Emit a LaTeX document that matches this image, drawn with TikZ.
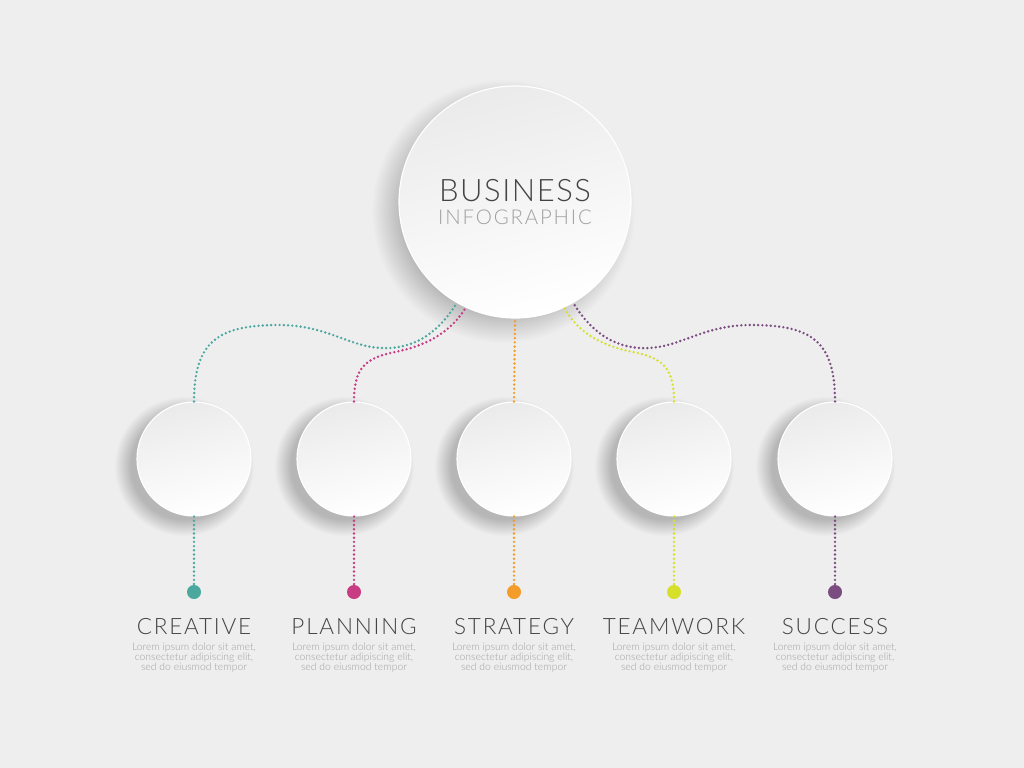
\documentclass[tikz,border=0pt]{standalone}
\usepackage{fontspec}
\setmainfont{Open Sans}
\newfontfamily\thinfont{Lato Light}

\definecolor{bg}{HTML}{EEEEEE}
\definecolor{cteal}{HTML}{4BA89E}
\definecolor{cmag}{HTML}{C83C84}
\definecolor{corange}{HTML}{F39C2A}
\definecolor{cyellow}{HTML}{D6DF2A}
\definecolor{cpurple}{HTML}{7B4C80}
\definecolor{darktext}{HTML}{444444}
\definecolor{lighttext}{HTML}{A0A0A0}
\definecolor{shadowgray}{HTML}{B6B6B6}

\pgfdeclareradialshading{discshadow}{\pgfpoint{0bp}{0bp}}{color(0bp)=(shadowgray); color(19bp)=(shadowgray); color(25bp)=(bg); color(50bp)=(bg)}

\tikzset{
  disc/.style={circle,draw=white,line width=0.8pt,top color=black!8,bottom color=white,shading angle=15},
  bigdisc/.style={disc,minimum size=5.8cm},
  smalldisc/.style={disc,minimum size=2.85cm},
  castshadow/.style={shading=discshadow},
  pin/.style={circle,minimum size=0.35cm,inner sep=0pt},
  link/.style={line width=1.9pt,line cap=round,dash pattern=on 0pt off 3pt},
  title/.style={font=\thinfont\fontsize{16}{18}\selectfont\addfontfeature{LetterSpace=8},text=darktext},
  lorem/.style={font=\thinfont\fontsize{7.4}{7.1}\selectfont,text=lighttext,align=center}
}

\begin{document}
\begin{tikzpicture}[x=0.025cm,y=-0.025cm]
    \fill[bg] (0,0) rectangle (1024,768);
    \useasboundingbox (0,0) rectangle (1024,768);
    \shade[castshadow] (503,211) circle (132);
    \shade[castshadow] (184,466) circle (70);
    \shade[castshadow] (344,466) circle (70);
    \shade[castshadow] (504,466) circle (70);
    \shade[castshadow] (664,466) circle (70);
    \shade[castshadow] (825,466) circle (70);
    \node[bigdisc] at (515,202) (biz) {};
    \node[font=\thinfont\fontsize{22}{24}\selectfont\addfontfeature{LetterSpace=5},text=darktext] at (515,191) (bizt) {BUSINESS};
    \node[font=\thinfont\fontsize{14.5}{16}\selectfont\addfontfeature{LetterSpace=9},text=lighttext] at (515,217) (bizs) {INFOGRAPHIC};
    \node[smalldisc] at (194,459) (cr) {};
    \node[smalldisc] at (354,459) (pl) {};
    \node[smalldisc] at (514,459) (st) {};
    \node[smalldisc] at (674,459) (tw) {};
    \node[smalldisc] at (835,459) (su) {};
    \node[pin,fill=cteal] at (194,592) (crd) {};
    \node[pin,fill=cmag] at (354,592) (pld) {};
    \node[pin,fill=corange] at (514,592) (std) {};
    \node[pin,fill=cyellow] at (674,592) (twd) {};
    \node[pin,fill=cpurple] at (835,592) (sud) {};
    \node[title] at (194,627) (crt) {CREATIVE};
    \node[title] at (354,627) (plt) {PLANNING};
    \node[title] at (514,627) (stt) {STRATEGY};
    \node[title] at (674,627) (twt) {TEAMWORK};
    \node[title] at (835,627) (sut) {SUCCESS};
    \node[lorem] at (194,658) (crl) {Lorem ipsum dolor sit amet,\\consectetur adipiscing elit,\\sed do eiusmod tempor};
    \node[lorem] at (354,658) (pll) {Lorem ipsum dolor sit amet,\\consectetur adipiscing elit,\\sed do eiusmod tempor};
    \node[lorem] at (514,658) (stl) {Lorem ipsum dolor sit amet,\\consectetur adipiscing elit,\\sed do eiusmod tempor};
    \node[lorem] at (674,658) (twl) {Lorem ipsum dolor sit amet,\\consectetur adipiscing elit,\\sed do eiusmod tempor};
    \node[lorem] at (835,658) (sul) {Lorem ipsum dolor sit amet,\\consectetur adipiscing elit,\\sed do eiusmod tempor};
    \draw[link,cteal] (cr.north) .. controls (194,340) and (220,326) .. (275,325) .. controls (330,324) and (350,350) .. (390,348) .. controls (425,346) and (445,322) .. (biz.240);
    \draw[link,cmag] (pl.north) .. controls (354,368) and (365,358) .. (395,352) .. controls (430,345) and (452,330) .. (biz.245);
    \draw[link,corange] (st.north) -- (biz.270);
    \draw[link,cyellow] (tw.north) .. controls (674,368) and (663,358) .. (633,352) .. controls (598,345) and (576,330) .. (biz.295);
    \draw[link,cpurple] (su.north) .. controls (835,340) and (810,326) .. (755,325) .. controls (700,324) and (680,350) .. (640,348) .. controls (605,346) and (585,322) .. (biz.300);
    \draw[link,cteal] (cr.south) -- (crd.north);
    \draw[link,cmag] (pl.south) -- (pld.north);
    \draw[link,corange] (st.south) -- (std.north);
    \draw[link,cyellow] (tw.south) -- (twd.north);
    \draw[link,cpurple] (su.south) -- (sud.north);
\end{tikzpicture}
\end{document}
